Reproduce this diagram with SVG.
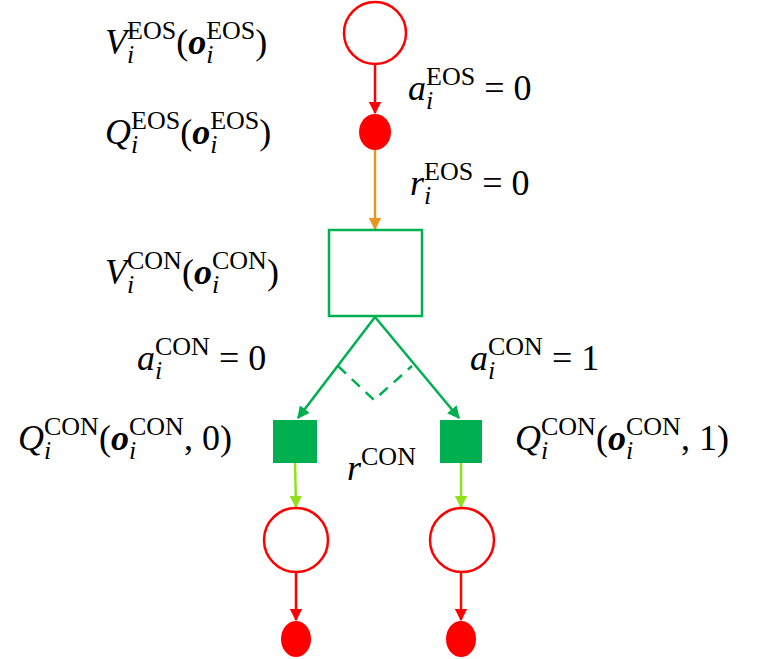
<svg xmlns="http://www.w3.org/2000/svg" width="765" height="659" viewBox="0 0 765 659">
<style>
text{font-family:"Liberation Serif",serif;font-size:36px;fill:#000}
.it{font-style:italic}
.b{font-weight:bold;font-style:italic}
.s{font-size:26px}
.red{stroke:#ff0000;stroke-width:2.5;fill:none}
.grn{stroke:#00b050;stroke-width:2.5;fill:none}
</style>
<defs>
<marker id="ar" viewBox="0 0 10 10" refX="9" refY="5" markerWidth="5" markerHeight="5" orient="auto"><path d="M0,0L10,5L0,10z" fill="#ff0000"/></marker>
<marker id="ao" viewBox="0 0 10 10" refX="9" refY="5" markerWidth="5" markerHeight="5" orient="auto"><path d="M0,0L10,5L0,10z" fill="#e8961e"/></marker>
<marker id="ag" viewBox="0 0 10 10" refX="9" refY="5" markerWidth="5" markerHeight="5" orient="auto"><path d="M0,0L10,5L0,10z" fill="#00b050"/></marker>
<marker id="ay" viewBox="0 0 10 10" refX="9" refY="5" markerWidth="5" markerHeight="5" orient="auto"><path d="M0,0L10,5L0,10z" fill="#92e01c"/></marker>
</defs>
<g id="connectors">
<line x1="375" y1="64" x2="375" y2="113" stroke="#ff0000" stroke-width="2.5" marker-end="url(#ar)"/>
<line x1="375" y1="150" x2="375" y2="229" stroke="#e8961e" stroke-width="2.5" marker-end="url(#ao)"/>
<line x1="375" y1="317" x2="298" y2="418" stroke="#00b050" stroke-width="2.5" marker-end="url(#ag)"/>
<line x1="375" y1="317" x2="459" y2="418" stroke="#00b050" stroke-width="2.5" marker-end="url(#ag)"/>
<path d="M338,366 L374,400 L412,366" class="grn" stroke-dasharray="11,8"/>
<line x1="295" y1="463" x2="296" y2="507" stroke="#92e01c" stroke-width="2.5" marker-end="url(#ay)"/>
<line x1="461" y1="463" x2="461" y2="507" stroke="#92e01c" stroke-width="2.5" marker-end="url(#ay)"/>
<line x1="296" y1="572" x2="296" y2="620" stroke="#ff0000" stroke-width="2.5" marker-end="url(#ar)"/>
<line x1="461" y1="572" x2="461" y2="620" stroke="#ff0000" stroke-width="2.5" marker-end="url(#ar)"/>
</g>
<g id="vEOS"><circle cx="375" cy="33" r="31" class="red"/></g>
<g id="qEOS"><ellipse cx="375" cy="132" rx="16" ry="18" fill="#ff0000"/></g>
<g id="vCON"><rect x="329" y="230" width="93" height="86" class="grn"/></g>
<g id="q0"><rect x="273" y="420" width="44" height="43" fill="#00b050"/></g>
<g id="q1"><rect x="440" y="420" width="42" height="43" fill="#00b050"/></g>
<g id="n0"><circle cx="296" cy="540" r="32" class="red"/></g>
<g id="n1"><circle cx="462" cy="540" r="32" class="red"/></g>
<g id="e0"><ellipse cx="296" cy="639" rx="15" ry="18" fill="#ff0000"/></g>
<g id="e1"><ellipse cx="461" cy="639" rx="15" ry="18" fill="#ff0000"/></g>
<g id="labels">
<text x="105" y="54"><tspan class="it">V</tspan><tspan class="s" dy="-15">EOS</tspan><tspan class="s it" dx="-49.1" dy="24">i</tspan><tspan dx="41.9" dy="-9">(</tspan><tspan class="b">o</tspan><tspan class="s" dy="-15">EOS</tspan><tspan class="s it" dx="-49.1" dy="24">i</tspan><tspan dx="41.9" dy="-9">)</tspan></text>
<text x="105" y="144"><tspan class="it">Q</tspan><tspan class="s" dy="-15">EOS</tspan><tspan class="s it" dx="-49.1" dy="24">i</tspan><tspan dx="41.9" dy="-9">(</tspan><tspan class="b">o</tspan><tspan class="s" dy="-15">EOS</tspan><tspan class="s it" dx="-49.1" dy="24">i</tspan><tspan dx="41.9" dy="-9">)</tspan></text>
<text x="408" y="100"><tspan class="it">a</tspan><tspan class="s" dy="-15">EOS</tspan><tspan class="s it" dx="-49.1" dy="24">i</tspan><tspan dx="41.9" dy="-9"> = 0</tspan></text>
<text x="410" y="195"><tspan class="it">r</tspan><tspan class="s" dy="-15">EOS</tspan><tspan class="s it" dx="-49.1" dy="24">i</tspan><tspan dx="41.9" dy="-9"> = 0</tspan></text>
<text x="105" y="284"><tspan class="it">V</tspan><tspan class="s" dy="-15">CON</tspan><tspan class="s it" dx="-54.9" dy="24">i</tspan><tspan dx="47.7" dy="-9">(</tspan><tspan class="b">o</tspan><tspan class="s" dy="-15">CON</tspan><tspan class="s it" dx="-54.9" dy="24">i</tspan><tspan dx="47.7" dy="-9">)</tspan></text>
<text x="137" y="370"><tspan class="it">a</tspan><tspan class="s" dy="-15">CON</tspan><tspan class="s it" dx="-54.9" dy="24">i</tspan><tspan dx="47.7" dy="-9"> = 0</tspan></text>
<text x="470" y="370"><tspan class="it">a</tspan><tspan class="s" dy="-15">CON</tspan><tspan class="s it" dx="-54.9" dy="24">i</tspan><tspan dx="47.7" dy="-9"> = 1</tspan></text>
<text x="18" y="450"><tspan class="it">Q</tspan><tspan class="s" dy="-15">CON</tspan><tspan class="s it" dx="-54.9" dy="24">i</tspan><tspan dx="47.7" dy="-9">(</tspan><tspan class="b">o</tspan><tspan class="s" dy="-15">CON</tspan><tspan class="s it" dx="-54.9" dy="24">i</tspan><tspan dx="47.7" dy="-9">, 0)</tspan></text>
<text x="515" y="450"><tspan class="it">Q</tspan><tspan class="s" dy="-15">CON</tspan><tspan class="s it" dx="-54.9" dy="24">i</tspan><tspan dx="47.7" dy="-9">(</tspan><tspan class="b">o</tspan><tspan class="s" dy="-15">CON</tspan><tspan class="s it" dx="-54.9" dy="24">i</tspan><tspan dx="47.7" dy="-9">, 1)</tspan></text>
<text x="347" y="480"><tspan class="it">r</tspan><tspan class="s" dy="-15">CON</tspan></text>
</g>
</svg>
